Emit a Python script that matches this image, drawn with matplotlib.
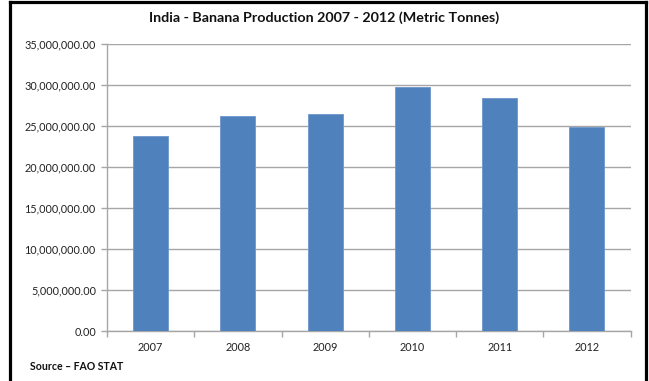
import matplotlib
matplotlib.use("Agg")
import matplotlib.pyplot as plt
from matplotlib.lines import Line2D
from matplotlib.ticker import FuncFormatter, FixedLocator

# Indien, bananproduktion (FAO STAT), ton
years = ["2007", "2008", "2009", "2010", "2011", "2012"]
tonnes = [23823000, 26217000, 26470000, 29780000, 28455000, 24869000]
yticks = [0, 5e6, 10e6, 15e6, 20e6, 25e6, 30e6, 35e6]

plt.rcParams["font.family"] = ["Lato", "DejaVu Sans"]
GRID = "#a6a6a6"
BAR = "#4f81bd"

fig = plt.figure(figsize=(6.49, 3.81), dpi=100, facecolor="white")
ax = fig.add_axes([107 / 649, 1 - 331 / 381, (630.5 - 107) / 649, (331 - 44) / 381])

x = list(range(len(years)))
ax.bar(x, tonnes, width=0.4, color=BAR, edgecolor="#6f97cc", lw=0.6, zorder=3)

ax.set_xlim(-0.5, len(years) - 0.5)
ax.set_ylim(0, 35e6)
ax.set_yticks(yticks)
ax.yaxis.set_major_formatter(FuncFormatter(lambda v, p: f"{v:,.2f}"))
ax.grid(axis="y", color=GRID, lw=1, zorder=0)

ax.set_xticks(x)
ax.set_xticklabels(years)
ax.xaxis.set_minor_locator(FixedLocator([i - 0.5 for i in range(len(years) + 1)]))
ax.tick_params(axis="x", which="major", length=0, pad=8, labelsize=7.8, colors="#222")
ax.tick_params(axis="x", which="minor", length=4, color=GRID, width=1)
ax.tick_params(axis="y", length=4, color=GRID, width=1, labelsize=7.8, labelcolor="#222", pad=4)

for s in ("top", "right"):
    ax.spines[s].set_visible(False)
for s in ("left", "bottom"):
    ax.spines[s].set_color(GRID)
    ax.spines[s].set_linewidth(1)

fig.text(0.5, 1 - 18 / 381, "India - Banana Production 2007 - 2012 (Metric Tonnes)",
         ha="center", va="center", fontsize=10.3, weight="bold", color="#111")
fig.text(30 / 649, 1 - 367 / 381, "Source \u2013 FAO STAT",
         ha="left", va="center", fontsize=7.6, weight="bold", color="#111")

# svart ram runt diagramytan (ingen underkant)
W, H = 649, 381
fx = lambda px: px / W
fy = lambda py: 1 - py / H
for xs, ys in [((9.5, 9.5), (1.5, 381)), ((9.5, 645.5), (1.5, 1.5)), ((645.5, 645.5), (1.5, 381))]:
    fig.add_artist(Line2D([fx(v) for v in xs], [fy(v) for v in ys], color="black", lw=2.3))

fig.savefig("out.png", dpi=100, facecolor="white")
